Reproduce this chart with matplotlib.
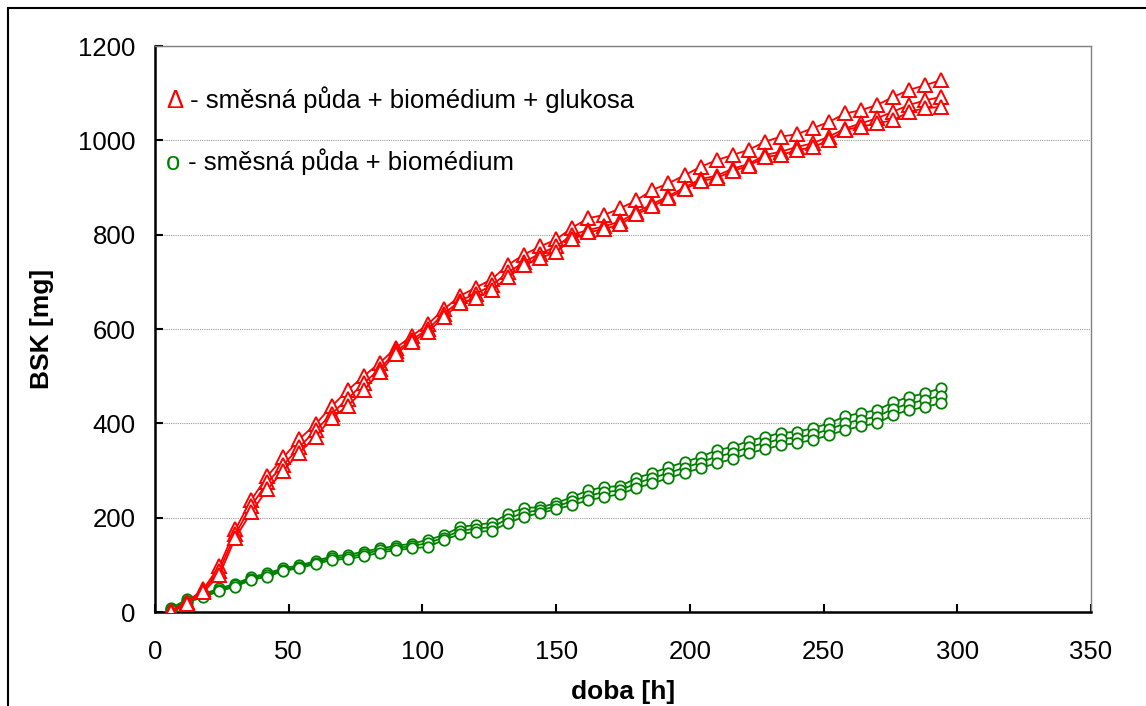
#!/usr/bin/env python3
"""BSK vs. time for mixed soil with biomedium, with and without glucose."""

import matplotlib

matplotlib.use("Agg")
import matplotlib.pyplot as plt
from matplotlib.patches import Rectangle

plt.rcParams["font.family"] = ["Liberation Sans", "DejaVu Sans"]

TIME_H = list(range(6, 295, 6))

# směsná půda + biomédium + glukosa (three replicates)
RED_A = [3, 22, 48, 97, 175, 238, 288, 328, 367, 398, 436, 470, 500, 528, 560, 585, 610,
         642, 670, 688, 706, 736, 758, 775, 790, 815, 835, 842, 856, 873, 895, 909, 926,
         944, 958, 969, 980, 997, 1008, 1013, 1026, 1039, 1057, 1064, 1075, 1092, 1107,
         1117, 1128]
RED_B = [2, 20, 45, 88, 165, 225, 275, 312, 350, 385, 420, 452, 485, 515, 553, 577, 600,
         632, 660, 675, 693, 720, 742, 760, 775, 800, 810, 818, 828, 848, 865, 882, 900,
         918, 925, 940, 950, 969, 976, 986, 994, 1008, 1025, 1036, 1047, 1061, 1075,
         1085, 1092]
RED_C = [0, 18, 42, 78, 157, 212, 260, 300, 338, 372, 411, 437, 470, 508, 548, 572, 594,
         625, 655, 665, 683, 710, 735, 750, 764, 790, 805, 812, 822, 843, 860, 878, 896,
         914, 920, 935, 946, 965, 969, 979, 986, 1000, 1022, 1029, 1036, 1043, 1061,
         1068, 1071]

# směsná půda + biomédium (three replicates)
GREEN_A = [8, 27, 38, 50, 60, 74, 82, 93, 99, 108, 118, 121, 128, 135, 140, 145, 153,
           163, 180, 185, 189, 208, 221, 222, 231, 244, 258, 265, 267, 284, 295, 307,
           318, 329, 343, 350, 363, 371, 380, 382, 390, 400, 415, 422, 428, 445, 456,
           464, 475]
GREEN_B = [6, 23, 35, 47, 57, 71, 79, 90, 96, 105, 114, 117, 123, 131, 135, 140, 146,
           158, 172, 177, 180, 198, 211, 216, 224, 235, 247, 254, 258, 273, 284, 295,
           306, 317, 330, 337, 350, 358, 367, 370, 377, 387, 400, 408, 414, 431, 442,
           450, 459]
GREEN_C = [4, 20, 32, 44, 54, 68, 75, 87, 93, 102, 110, 113, 118, 126, 131, 135, 138,
           153, 165, 170, 172, 189, 202, 210, 218, 227, 237, 244, 250, 263, 273, 284,
           295, 305, 316, 324, 337, 345, 354, 358, 365, 375, 386, 394, 400, 418, 428,
           435, 443]

X_TICKS = [0, 50, 100, 150, 200, 250, 300, 350]
Y_TICKS = [0, 200, 400, 600, 800, 1000, 1200]

RED = "#ff0000"
GREEN = "#008000"


def main() -> None:
    fig = plt.figure(figsize=(11.46, 7.06), dpi=100)
    ax = fig.add_axes([0.1353, 0.1331, 0.8167, 0.8017])

    for series in (GREEN_A, GREEN_B, GREEN_C):
        ax.plot(TIME_H, series, color=GREEN, linewidth=1.3, marker="o", markersize=7.5,
                markerfacecolor="white", markeredgecolor=GREEN, markeredgewidth=1.3, zorder=3)
    for series in (RED_A, RED_B, RED_C):
        ax.plot(TIME_H, series, color=RED, linewidth=1.3, marker="^", markersize=10,
                markerfacecolor="white", markeredgecolor=RED, markeredgewidth=1.4, zorder=4)

    ax.set_xlim(0, 350)
    ax.set_ylim(0, 1200)
    ax.set_xticks(X_TICKS)
    ax.set_yticks(Y_TICKS)
    ax.tick_params(direction="in", length=6, width=1.5, labelsize=18.5, colors="black")
    ax.tick_params(axis="y", pad=14)
    ax.tick_params(axis="x", pad=20)
    ax.yaxis.grid(True, color="#9a9a9a", linewidth=0.8, linestyle=(0, (1, 1)))
    ax.set_axisbelow(True)

    for side in ("left", "bottom"):
        ax.spines[side].set_linewidth(1.8)
        ax.spines[side].set_color("black")
    for side in ("top", "right"):
        ax.spines[side].set_linewidth(1.0)
        ax.spines[side].set_color("#808080")

    ax.set_xlabel("doba [h]", fontsize=19, fontweight="bold", labelpad=12)
    ax.set_ylabel("BSK [mg]", fontsize=19, fontweight="bold", labelpad=17)

    t1 = ax.text(0.012, 0.89, "Δ", transform=ax.transAxes, color=RED, fontsize=18.5,
                 va="baseline")
    ax.annotate(" - směsná půda + biomédium + glukosa", xy=(1, 0), xycoords=t1,
                fontsize=18.5, color="black", va="bottom")
    t2 = ax.text(0.012, 0.781, "o", transform=ax.transAxes, color=GREEN, fontsize=18.5,
                 va="baseline")
    ax.annotate(" - směsná půda + biomédium", xy=(1, 0), xycoords=t2,
                fontsize=18.5, color="black", va="bottom")

    frame = Rectangle((8 / 1146, -0.05), 1.2, 1 - 8 / 706 + 0.05, transform=fig.transFigure,
                      fill=False, edgecolor="black", linewidth=1.5)
    fig.patches.append(frame)

    fig.savefig("out.png", dpi=100)
    plt.close(fig)


if __name__ == "__main__":
    main()
